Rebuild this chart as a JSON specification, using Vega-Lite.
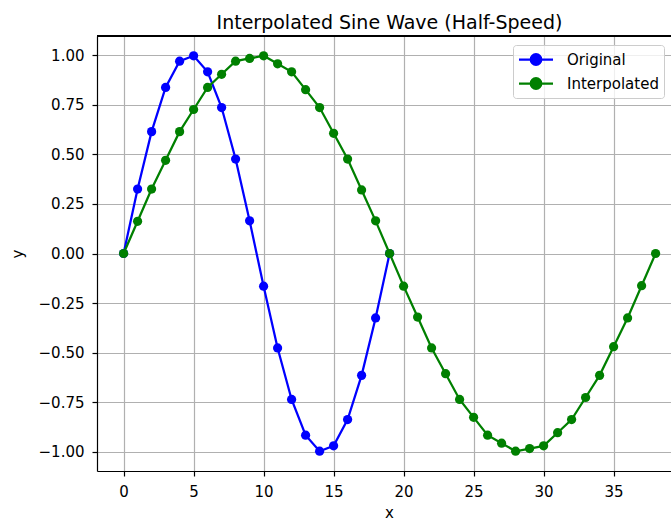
{
  "$schema": "https://vega.github.io/schema/vega-lite/v6.json",
  "width": 574,
  "height": 435,
  "autosize": {"type": "none"},
  "padding": {"left": 97, "top": 36, "right": 0, "bottom": 49},
  "background": "#ffffff",
  "title": {"text": "Interpolated Sine Wave (Half-Speed)", "fontSize": 19, "font": "DejaVu Sans", "fontWeight": "normal", "color": "#000000", "anchor": "middle", "frame": "group", "offset": 9, "baseline": "alphabetic", "dx": 5.5, "dy": 22},
  "config": {
    "view": {"stroke": null},
    "axis": {"gridColor": "#b0b0b0", "gridWidth": 1.2, "gridOpacity": 1, "domainColor": "#000000", "domainWidth": 1.2, "tickColor": "#000000", "tickWidth": 1.2, "tickSize": 5, "labelFontSize": 15, "labelFont": "DejaVu Sans", "labelColor": "#000000", "titleFont": "DejaVu Sans", "titleFontSize": 15, "titleFontWeight": "normal", "titleColor": "#000000"}
  },
  "data": {"values": [
    {"series": "Original", "x": 0, "y": 0},
    {"series": "Original", "x": 1, "y": 0.32470},
    {"series": "Original", "x": 2, "y": 0.61421},
    {"series": "Original", "x": 3, "y": 0.83717},
    {"series": "Original", "x": 4, "y": 0.96940},
    {"series": "Original", "x": 5, "y": 0.99658},
    {"series": "Original", "x": 6, "y": 0.91577},
    {"series": "Original", "x": 7, "y": 0.73572},
    {"series": "Original", "x": 8, "y": 0.47595},
    {"series": "Original", "x": 9, "y": 0.16460},
    {"series": "Original", "x": 10, "y": -0.16460},
    {"series": "Original", "x": 11, "y": -0.47595},
    {"series": "Original", "x": 12, "y": -0.73572},
    {"series": "Original", "x": 13, "y": -0.91577},
    {"series": "Original", "x": 14, "y": -0.99658},
    {"series": "Original", "x": 15, "y": -0.96940},
    {"series": "Original", "x": 16, "y": -0.83717},
    {"series": "Original", "x": 17, "y": -0.61421},
    {"series": "Original", "x": 18, "y": -0.32470},
    {"series": "Original", "x": 19, "y": 0},
    {"series": "Interpolated", "x": 0, "y": 0},
    {"series": "Interpolated", "x": 1, "y": 0.16235},
    {"series": "Interpolated", "x": 2, "y": 0.32470},
    {"series": "Interpolated", "x": 3, "y": 0.46946},
    {"series": "Interpolated", "x": 4, "y": 0.61421},
    {"series": "Interpolated", "x": 5, "y": 0.72569},
    {"series": "Interpolated", "x": 6, "y": 0.83717},
    {"series": "Interpolated", "x": 7, "y": 0.90329},
    {"series": "Interpolated", "x": 8, "y": 0.96940},
    {"series": "Interpolated", "x": 9, "y": 0.98299},
    {"series": "Interpolated", "x": 10, "y": 0.99658},
    {"series": "Interpolated", "x": 11, "y": 0.95618},
    {"series": "Interpolated", "x": 12, "y": 0.91577},
    {"series": "Interpolated", "x": 13, "y": 0.82575},
    {"series": "Interpolated", "x": 14, "y": 0.73572},
    {"series": "Interpolated", "x": 15, "y": 0.60584},
    {"series": "Interpolated", "x": 16, "y": 0.47595},
    {"series": "Interpolated", "x": 17, "y": 0.32028},
    {"series": "Interpolated", "x": 18, "y": 0.16460},
    {"series": "Interpolated", "x": 19, "y": 0},
    {"series": "Interpolated", "x": 20, "y": -0.16460},
    {"series": "Interpolated", "x": 21, "y": -0.32028},
    {"series": "Interpolated", "x": 22, "y": -0.47595},
    {"series": "Interpolated", "x": 23, "y": -0.60584},
    {"series": "Interpolated", "x": 24, "y": -0.73572},
    {"series": "Interpolated", "x": 25, "y": -0.82575},
    {"series": "Interpolated", "x": 26, "y": -0.91577},
    {"series": "Interpolated", "x": 27, "y": -0.95618},
    {"series": "Interpolated", "x": 28, "y": -0.99658},
    {"series": "Interpolated", "x": 29, "y": -0.98299},
    {"series": "Interpolated", "x": 30, "y": -0.96940},
    {"series": "Interpolated", "x": 31, "y": -0.90329},
    {"series": "Interpolated", "x": 32, "y": -0.83717},
    {"series": "Interpolated", "x": 33, "y": -0.72569},
    {"series": "Interpolated", "x": 34, "y": -0.61421},
    {"series": "Interpolated", "x": 35, "y": -0.46946},
    {"series": "Interpolated", "x": 36, "y": -0.32470},
    {"series": "Interpolated", "x": 37, "y": -0.16235},
    {"series": "Interpolated", "x": 38, "y": 0}
  ]},
  "encoding": {
    "x": {"field": "x", "type": "quantitative", "scale": {"domain": [-1.9, 39.1], "nice": false, "zero": false},
      "axis": {"title": "x", "values": [0, 5, 10, 15, 20, 25, 30, 35], "format": "d", "labelPadding": 8, "titlePadding": 6, "titleX": 292}},
    "y": {"field": "y", "type": "quantitative", "scale": {"domain": [-1.0962, 1.0962], "nice": false, "zero": false},
      "axis": {"title": "y", "values": [-1, -0.75, -0.5, -0.25, 0, 0.25, 0.5, 0.75, 1], "format": ".2f", "labelPadding": 8, "titlePadding": 13}},
    "color": {"field": "series", "type": "nominal",
      "scale": {"domain": ["Original", "Interpolated"], "range": ["#0000ff", "#008000"]},
      "legend": {"title": null, "orient": "none", "legendX": 416, "legendY": 9, "padding": 4.5, "rowPadding": 4,
        "symbolSize": 289, "symbolType": "M-1,0H3M1.62,0A0.62,0.62,0,1,1,0.38,0A0.62,0.62,0,1,1,1.62,0Z",
        "symbolStrokeWidth": 2.25, "symbolOpacity": 1, "labelOffset": 29.5, "labelFontSize": 15, "labelFont": "DejaVu Sans", "labelColor": "#000000",
        "strokeColor": "#cccccc", "fillColor": "rgba(255,255,255,0.8)", "cornerRadius": 3,
        "encode": {"symbols": {"update": {"fill": {"scale": "color", "field": "value"}, "stroke": {"scale": "color", "field": "value"}, "strokeWidth": {"value": 2.25}}}}}}
  },
  "layer": [
    {"mark": {"type": "rule", "color": "#000000", "strokeWidth": 1.2}, "encoding": {"y": {"datum": 1.0962}, "x": null, "color": null}},
    {"transform": [{"filter": "datum.series === 'Original'"}], "mark": {"type": "line", "strokeWidth": 2.25}},
    {"transform": [{"filter": "datum.series === 'Original'"}], "mark": {"type": "point", "filled": true, "size": 85, "opacity": 1}},
    {"transform": [{"filter": "datum.series === 'Interpolated'"}], "mark": {"type": "line", "strokeWidth": 2.25}},
    {"transform": [{"filter": "datum.series === 'Interpolated'"}], "mark": {"type": "point", "filled": true, "size": 85, "opacity": 1}}
  ]
}
